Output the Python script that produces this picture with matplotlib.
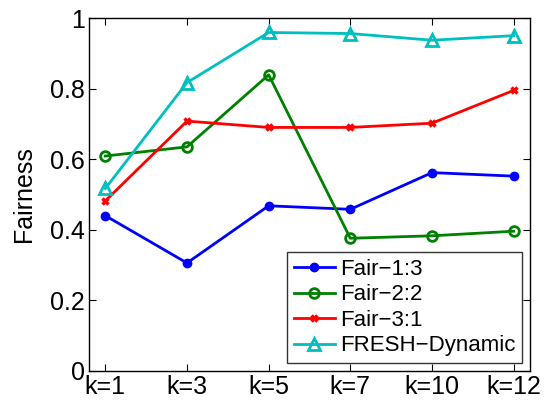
import matplotlib
matplotlib.use("Agg")
import matplotlib.pyplot as plt
import numpy as np

plt.rcParams['font.family'] = ['Liberation Sans', 'DejaVu Sans']

categories = ["k=1", "k=3", "k=5", "k=7", "k=10", "k=12"]
fair_1_3 = [0.440, 0.306, 0.468, 0.458, 0.562, 0.552]
fair_2_2 = [0.609, 0.635, 0.839, 0.376, 0.383, 0.396]
fair_3_1 = [0.482, 0.708, 0.690, 0.690, 0.702, 0.795]
fresh_dyn = [0.517, 0.817, 0.959, 0.956, 0.937, 0.950]
yticks = [0, 0.2, 0.4, 0.6, 0.8, 1]
ytick_labels = ["0", "0.2", "0.4", "0.6", "0.8", "1"]

fig = plt.figure(figsize=(5.44, 4.05), dpi=100)
ax = fig.add_axes([89/544, 1 - 371/405, (530-89)/544, (371-18)/405])
x = np.arange(len(categories))

ax.plot(x, fair_1_3, color='#0000ff', lw=2, marker='o', ms=6, label='Fair\u22121:3')
ax.plot(x, fair_2_2, color='#008000', lw=2, marker='o', ms=7, mfc='none', mew=2, label='Fair\u22122:2')
ax.plot(x, fair_3_1, color='#ff0000', lw=2, marker='x', ms=5, mew=2.5, label='Fair\u22123:1')
ax.plot(x, fresh_dyn, color='#00bfbf', lw=2, marker='^', ms=8, mfc='none', mew=2, label='FRESH\u2212Dynamic')

ax.set_xlim(-0.2, 5.2)
ax.set_ylim(0, 1)
ax.set_xticks(x)
ax.set_xticklabels(categories, fontsize=18)
ax.set_yticks(yticks)
ax.set_yticklabels(ytick_labels, fontsize=18)
ax.set_ylabel("Fairness", fontsize=18, labelpad=10)
ax.tick_params(direction='in', top=True, right=True, length=5, pad=3)
for s in ax.spines.values():
    s.set_linewidth(1)

leg = ax.legend(loc='lower right', fontsize=16, frameon=True, fancybox=False,
                edgecolor='black', handlelength=1.85, handletextpad=0.22,
                borderpad=0.3, labelspacing=0.2, borderaxespad=0.36)
leg.get_frame().set_linewidth(1)

fig.savefig("out.png", dpi=100)
